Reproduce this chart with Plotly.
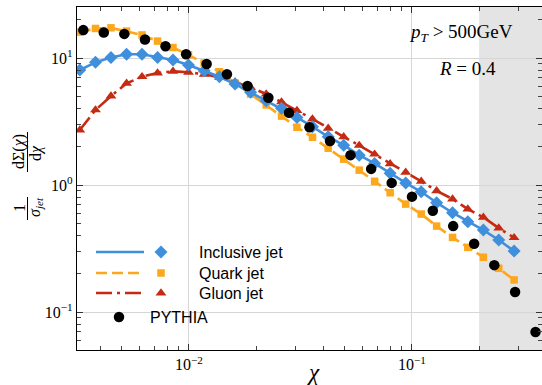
import plotly.graph_objects as go

# Jet angularity distributions, p_T > 500 GeV, R = 0.4
chi = [0.00324, 0.00381, 0.00447, 0.00525, 0.00616, 0.00723, 0.00848, 0.00995,
       0.0117, 0.0137, 0.0161, 0.0189, 0.0222, 0.0260, 0.0305, 0.0358, 0.0421,
       0.0494, 0.0580, 0.0680, 0.0798, 0.0937, 0.110, 0.129, 0.152, 0.178,
       0.209, 0.245, 0.287]

inclusive = [8.05, 9.25, 10.1, 10.7, 10.7, 10.1, 9.64, 8.81, 7.94, 7.13, 6.24,
             5.37, 4.61, 4.02, 3.41, 2.88, 2.40, 2.06, 1.72, 1.48, 1.24, 1.04,
             0.885, 0.726, 0.605, 0.514, 0.442, 0.369, 0.302]

quark = [16.0, 17.1, 17.3, 16.3, 15.2, 13.6, 12.1, 10.6, 9.13, 7.80, 6.36, 5.21,
         4.27, 3.49, 2.85, 2.38, 1.95, 1.60, 1.31, 1.07, 0.870, 0.708, 0.591,
         0.475, 0.387, 0.323, 0.270, 0.221, 0.179]

gluon = [2.71, 3.90, 5.02, 6.32, 7.13, 7.62, 7.87, 7.73, 7.45, 7.05, 6.47, 5.86,
         5.21, 4.51, 3.86, 3.31, 2.80, 2.40, 2.05, 1.75, 1.47, 1.26, 1.07, 0.901,
         0.776, 0.647, 0.557, 0.458, 0.385]

pythia_chi = [0.00336, 0.00415, 0.00513, 0.00635, 0.00785, 0.00971, 0.0120,
              0.0148, 0.0183, 0.0227, 0.0281, 0.0347, 0.0429, 0.0530, 0.0656,
              0.0811, 0.100, 0.124, 0.153, 0.190, 0.234, 0.290, 0.358]
pythia = [16.6, 15.9, 15.5, 14.0, 12.4, 10.7, 8.98, 7.45, 6.03, 4.87, 3.71, 2.85,
          2.22, 1.72, 1.34, 1.04, 0.81, 0.628, 0.475, 0.345, 0.234, 0.144, 0.0697]

x_ticks = [0.01, 0.1]
x_ticktext = ["10<sup>−2</sup>", "10<sup>−1</sup>"]
y_ticks = [0.1, 1, 10]
y_ticktext = ["10<sup>−1</sup>", "10<sup>0</sup>", "10<sup>1</sup>"]
shade_start = 0.2

BLUE = "#3f8fdc"
ORANGE = "#fca71c"
RED = "#c42b12"

W, H = 542, 385
ML, MR, MT, MB = 77, 0, 7, 35
SERIF = "Liberation Serif"
SANS = "Liberation Sans"

x_minor = [m * d for d in (0.001, 0.01, 0.1) for m in range(2, 10)]
x_minor = [v for v in x_minor if 0.0031 < v < 0.39]
y_minor = [m * d for d in (0.01, 0.1, 1, 10) for m in range(2, 10)]
y_minor = [v for v in y_minor if 0.05 < v < 25]

line_inc = dict(color=BLUE, width=2.6)
line_q = dict(color=ORANGE, width=2.6, dash="11px,5px")
line_g = dict(color=RED, width=2.6, dash="16px,5px,3px,5px")
mk_inc = dict(symbol="diamond", size=10, color=BLUE)
mk_q = dict(symbol="square", size=7.5, color=ORANGE)
mk_g = dict(symbol="triangle-up", size=9.5, color=RED)
mk_p = dict(symbol="circle", size=10.5, color="black")

fig = go.Figure()
fig.add_trace(go.Scatter(x=chi, y=quark, mode="lines+markers", line=line_q,
                         marker=mk_q, showlegend=False))
fig.add_trace(go.Scatter(x=chi, y=gluon, mode="lines+markers", line=line_g,
                         marker=mk_g, showlegend=False))
fig.add_trace(go.Scatter(x=chi, y=inclusive, mode="lines+markers", line=line_inc,
                         marker=mk_inc, showlegend=False))
fig.add_trace(go.Scatter(x=pythia_chi, y=pythia, mode="markers", marker=mk_p,
                         showlegend=False))

# hand-built legend on a pixel-scaled overlay (line sample, then marker)
rows = [(252, line_inc, mk_inc, "Inclusive jet"),
        (273, line_q, mk_q, "Quark jet"),
        (293, line_g, mk_g, "Gluon jet")]
for yy, ln, mk, name in rows:
    fig.add_trace(go.Scatter(x=[96, 144], y=[yy, yy], mode="lines", line=ln,
                             xaxis="x2", yaxis="y2", showlegend=False,
                             hoverinfo="skip"))
    fig.add_trace(go.Scatter(x=[161], y=[yy], mode="markers", marker=mk,
                             xaxis="x2", yaxis="y2", showlegend=False,
                             hoverinfo="skip", cliponaxis=False))
    fig.add_annotation(x=197, y=yy, xref="x2", yref="y2", text=name,
                       showarrow=False, xanchor="left", yanchor="middle",
                       font=dict(family=SANS, size=16, color="black"))
fig.add_trace(go.Scatter(x=[119], y=[317], mode="markers",
                         marker=dict(symbol="circle", size=10.5, color="black"),
                         xaxis="x2", yaxis="y2", showlegend=False,
                         hoverinfo="skip"))
fig.add_annotation(x=148, y=317, xref="x2", yref="y2", text="PYTHIA",
                   showarrow=False, xanchor="left", yanchor="middle",
                   font=dict(family=SANS, size=16, color="black"))

# shaded region
fig.add_shape(type="rect", xref="x", yref="paper", x0=shade_start, x1=10,
              y0=0, y1=1, fillcolor="#e4e4e4", line_width=0, layer="below")

axis_common = dict(showline=True, linecolor="black", linewidth=1.2,
                   mirror="ticks", ticks="inside", ticklen=6, tickwidth=1,
                   tickcolor="#333", showgrid=True, gridcolor="#d6d6d6",
                   gridwidth=1, zeroline=False,
                   tickfont=dict(family=SERIF, size=16, color="black"))
minor_common = dict(ticks="inside", ticklen=3.5, tickcolor="#444",
                    showgrid=False, gridcolor="rgba(0,0,0,0)")

fig.update_xaxes(type="log", range=[-2.502, -0.417], tickvals=x_ticks,
                 ticktext=x_ticktext,
                 minor=dict(tickvals=x_minor, **minor_common),
                 **axis_common)
fig.update_yaxes(type="log", range=[-1.299, 1.402], tickvals=y_ticks,
                 ticktext=y_ticktext,
                 minor=dict(tickvals=y_minor, **minor_common),
                 **axis_common)

fig.update_layout(
    width=W, height=H,
    margin=dict(l=ML, r=MR, t=MT, b=MB, pad=0),
    paper_bgcolor="white", plot_bgcolor="white",
    xaxis2=dict(overlaying="x", range=[ML, W - MR], visible=False),
    yaxis2=dict(overlaying="y", range=[H - MB, MT], visible=False),
)


def px(xp):
    return (xp - ML) / (W - ML - MR)


def py(yp):
    return (H - MB - yp) / (H - MT - MB)


def label(xp, yp, txt, font, angle=0):
    fig.add_annotation(x=px(xp), y=py(yp), xref="paper", yref="paper",
                       text=txt, showarrow=False, textangle=angle,
                       xanchor="center", yanchor="middle", font=font)


# axis label for x
label(313, 372, "<i>χ</i>", dict(family=SERIF, size=23, color="black"))

# y-axis label built as two stacked fractions, rotated
yfont = dict(family=SERIF, size=16, color="black")
for xp, yp, txt in [(19, 208, "1"), (36, 207, "<i>σ<sub>jet</sub></i>"),
                    (19, 152, "dΣ(<i>χ</i>)"), (36, 153, "d<i>χ</i>")]:
    label(xp, yp, txt, yfont, angle=-90)
for y0, y1 in [(197, 220), (132, 172)]:
    fig.add_shape(type="line", xref="paper", yref="paper", x0=px(27.5),
                  x1=px(27.5), y0=py(y0), y1=py(y1),
                  line=dict(color="black", width=1))

# cut labels
label(461, 33, "<i>p<sub>T</sub></i> > 500GeV",
      dict(family=SERIF, size=19, color="black"))
label(467, 68, "<i>R</i> = 0.4", dict(family=SERIF, size=19, color="black"))

fig.write_html("out.html")
